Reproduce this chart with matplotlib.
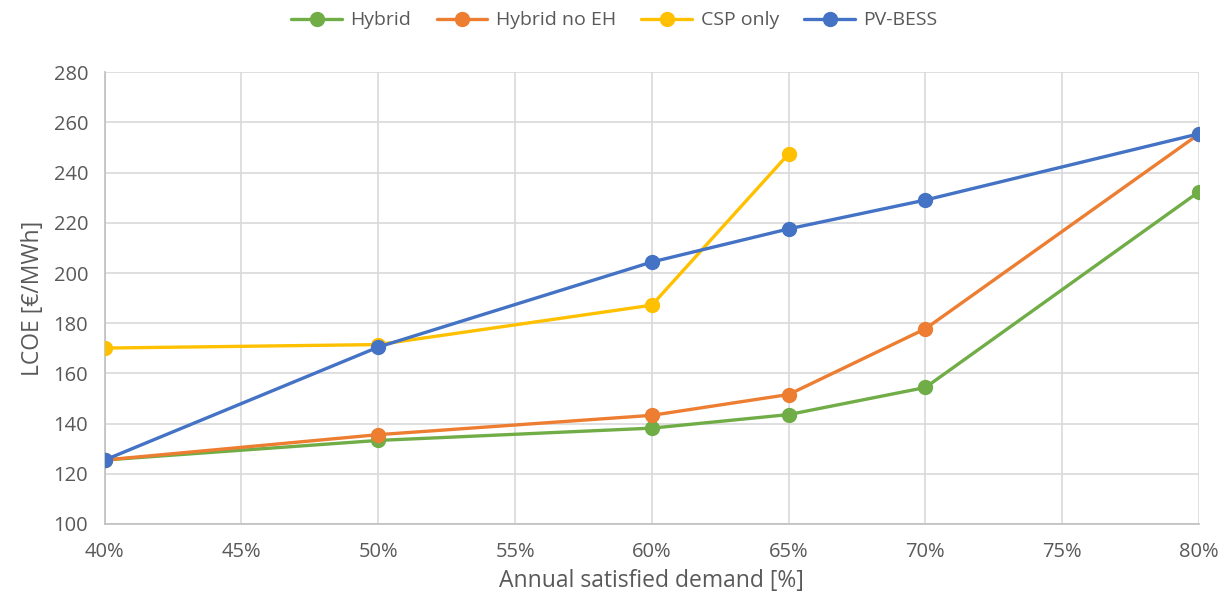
import matplotlib
matplotlib.use("Agg")
import matplotlib.pyplot as plt
from matplotlib.ticker import FuncFormatter, MultipleLocator

plt.rcParams['font.family'] = ['Open Sans', 'DejaVu Sans']

x_hybrid = [40, 50, 60, 65, 70, 80]
hybrid = [125.5, 133.3, 138.2, 143.6, 154.4, 232.4]

x_hybrid_no_eh = [40, 50, 60, 65, 70, 80]
hybrid_no_eh = [125.5, 135.6, 143.3, 151.6, 177.8, 255.4]

x_csp = [40, 50, 60, 65]
csp_only = [170.1, 171.5, 187.2, 247.5]

x_pv = [40, 50, 60, 65, 70, 80]
pv_bess = [125.5, 170.5, 204.4, 217.6, 229.1, 255.5]

series = [
    ("Hybrid", x_hybrid, hybrid, "#70AD47"),
    ("Hybrid no EH", x_hybrid_no_eh, hybrid_no_eh, "#ED7D31"),
    ("CSP only", x_csp, csp_only, "#FFC000"),
    ("PV-BESS", x_pv, pv_bess, "#4472C4"),
]

text_color = "#595959"
fig = plt.figure(figsize=(12.29, 6.10), dpi=100)
ax = fig.add_axes([0.0852, 0.141, 0.8904, 0.7405])

for label, xs, ys, c in series:
    ax.plot(xs, ys, color=c, linewidth=2.4, marker='o', markersize=10,
            label=label, solid_capstyle='round', zorder=3)

ax.set_xlim(40, 80)
ax.set_ylim(100, 280)
ax.xaxis.set_major_locator(MultipleLocator(5))
ax.yaxis.set_major_locator(MultipleLocator(20))
ax.xaxis.set_major_formatter(FuncFormatter(lambda v, p: f"{v:.0f}%"))
ax.grid(True, color="#D9D9D9", linewidth=1.2, zorder=0)
ax.set_axisbelow(True)
for s in ['top', 'right']:
    ax.spines[s].set_visible(False)
for s in ['left', 'bottom']:
    ax.spines[s].set_color("#BFBFBF")
    ax.spines[s].set_linewidth(1.2)
ax.tick_params(axis='x', length=0, colors=text_color, labelsize=14.5, pad=13)
ax.tick_params(axis='y', length=0, colors=text_color, labelsize=14.5, pad=12)
ax.set_xlabel("Annual satisfied demand [%]", fontsize=16.5, color=text_color, labelpad=5)
ax.set_ylabel("LCOE [€/MWh]", fontsize=16.5, color=text_color, labelpad=6)

leg = fig.legend(loc='upper center', bbox_to_anchor=(0.5, 1.01), ncol=4, frameon=False,
                 fontsize=14, handlelength=2.6, columnspacing=1.3, handletextpad=0.45)
for t in leg.get_texts():
    t.set_color(text_color)

fig.savefig("out.png", dpi=100)
